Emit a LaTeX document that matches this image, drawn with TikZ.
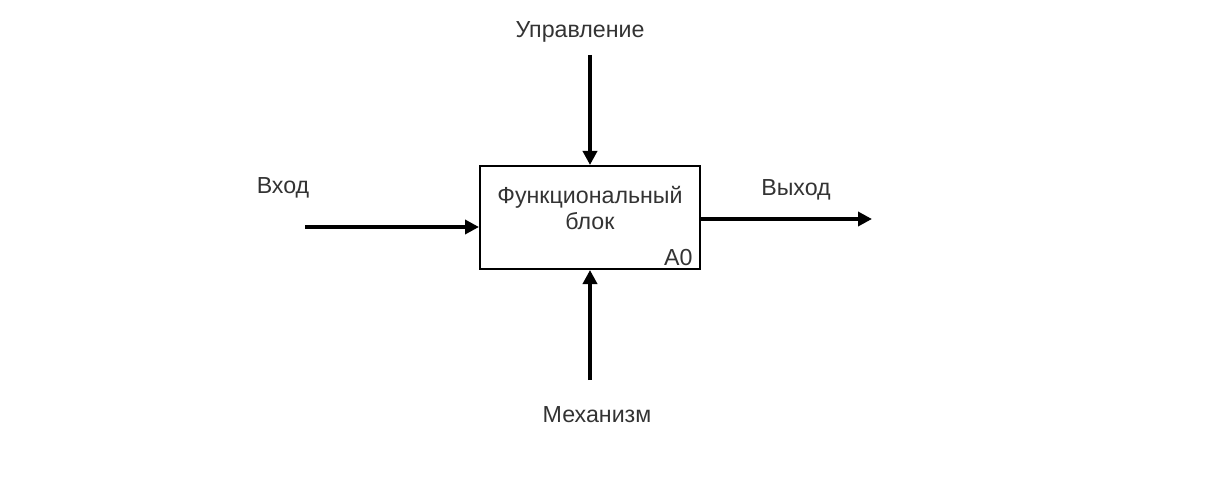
\documentclass[tikz,border=0pt]{standalone}
\usepackage{fontspec}
\setmainfont{Liberation Sans}
\usetikzlibrary{arrows.meta}
\tikzset{
	funcbox/.style={draw,line width=1pt,minimum width=110pt,minimum height=51.5pt,inner sep=0pt},
	arr/.style={line width=1.8pt,-{Triangle[length=7pt,width=7pt]}},
	lbl/.style={font=\fontsize{11.6pt}{13pt}\selectfont,text=black!80,inner sep=0pt}
}
\begin{document}
\begin{tikzpicture}[x=0.5pt,y=-0.5pt]
	\useasboundingbox (0,0) rectangle (1206,481);
	\node[funcbox] (blok) at (590,217.5) {};
	\node[lbl,align=center] (name) at (590,208) {Функциональный\\[0pt]блок};
	\node[lbl,anchor=south east] (num) at (693,266) {A0};
	\node[lbl] (upr) at (580,32) {Управление};
	\node[lbl] (vhod) at (283,188) {Вход};
	\node[lbl] (vyhod) at (796,190) {Выход};
	\node[lbl] (meh) at (597,415) {Механизм};
	\coordinate (ctop) at (590,55);
	\coordinate (cbot) at (590,380);
	\coordinate (cin) at (305,227);
	\coordinate (cout) at (872,219);
	\draw[arr] (ctop) -- (blok.north);
	\draw[arr] (cbot) -- (blok.south);
	\draw[arr] (cin) -- (cin -| blok.west);
	\draw[arr] (cout -| blok.east) -- (cout);
\end{tikzpicture}
\end{document}
